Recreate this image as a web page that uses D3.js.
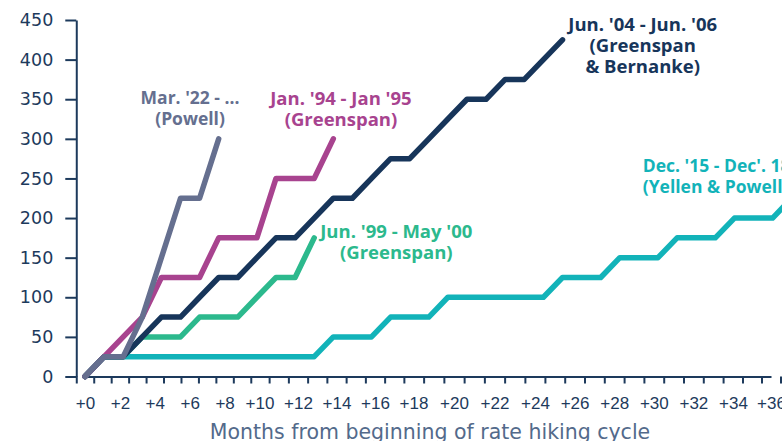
<!DOCTYPE html>
<meta charset="utf-8">
<style>
    body{ margin:0; background:#fff; }
    svg{ display:block; font-family:"Open Sans", sans-serif; }
    .axis path, .axis line{ stroke:#1d3a5c; stroke-width:2; }
    .axis text{ fill:#1d3a5c; }
    .series{ fill:none; stroke-width:5.5; stroke-linecap:round; stroke-linejoin:round; }
    .note{ font-weight:bold; }
</style>
<body>
<svg id="chart" width="782" height="441"></svg>
</body>
<script src="https://d3js.org/d3.v7.min.js"></script>
<script>
// months from beginning of cycle, basis points of cumulative hikes
var yellenPowell = [0,25,25,25,25,25,25,25,25,25,25,25,25,50,50,50,75,75,75,100,100,100,100,100,100,125,125,125,150,150,150,175,175,175,200,200,200,225];
var greenspan99  = [0,25,25,50,50,50,75,75,75,100,125,125,175];
var greenspan04  = [0,25,25,50,75,75,100,125,125,150,175,175,200,225,225,250,275,275,300,325,350,350,375,375,400,425];
var greenspan94  = [0,25,50,75,125,125,125,175,175,175,250,250,250,300];
var powell22     = [0,25,25,75,150,225,225,300];

var seriesNames  = ["yellenPowell","greenspan99","greenspan04","greenspan94","powell22"];
var seriesColors = ["#12b3b9","#2cb98d","#17355a","#a8438f","#656f8f"];
var seriesData   = [yellenPowell, greenspan99, greenspan04, greenspan94, powell22];

var labelLines = [
    ["Dec. '15 - Dec'. 18", "(Yellen & Powell)"],
    ["Jun. '99 - May '00", "(Greenspan)"],
    ["Jun. '04 - Jun. '06", "(Greenspan", "& Bernanke)"],
    ["Jan. '94 - Jan '95", "(Greenspan)"],
    ["Mar. '22 - ...", "(Powell)"]
];
// label anchor in data units (month, bps)
var labelAt = [[29.2, 258.5], [16.3, 174.5], [29.2, 436.5], [13.4, 342.5], [5.5, 343.5]];
var labelAnchor = ["start","middle","middle","middle","middle"];
var labelSize = [17.5, 18.5, 18.5, 18.5, 17.5];

var yTicks = [0,50,100,150,200,250,300,350,400,450];
var xLabels = d3.range(0, 37, 2);
var xTitle = "Months from beginning of rate hiking cycle";

var svg = d3.select("#chart");

// lines
var x = d3.scaleLinear().domain([0, 36]).range([85, 772.6]);
// axis ticks / labels as drawn in the source
var xa = d3.scaleLinear().domain([0, 10, 18, 24, 34, 36]).range([85, 259.5, 413.5, 535, 733, 771]);
var y = d3.scaleLinear().domain([0, 450]).range([376.5, 20]);

// y axis
svg.append("g")
    .attr("class", "axis")
    .attr("transform", "translate(" + xa(-0.5) + ",0)")
    .call(d3.axisLeft(y).tickValues(yTicks).tickSize(11).tickSizeOuter(0).tickPadding(12))
    .selectAll("text").style("font-family", "'DejaVu Sans'").style("font-size", "17.5px");

// x axis: ticks between months
svg.append("g")
    .attr("class", "axis")
    .attr("transform", "translate(0," + y(0) + ")")
    .call(d3.axisBottom(xa).tickValues(d3.range(-0.5, 40, 1)).tickSize(7).tickSizeOuter(0).tickFormat(""));

// x labels at month centres
svg.append("g")
    .attr("class", "axis")
    .attr("transform", "translate(0," + y(0) + ")")
    .call(d3.axisBottom(xa).tickValues(xLabels).tickSize(0).tickPadding(20).tickFormat(function(d){ return "+" + d; }))
    .call(function(g){ g.select(".domain").remove(); })
    .selectAll("text").style("font-size", "17px");

svg.append("text")
    .attr("x", 430)
    .attr("y", 438.5)
    .attr("text-anchor", "middle")
    .style("font-family", "'DejaVu Sans'")
    .style("font-size", "20.5px")
    .style("fill", "#536a8b")
    .text(xTitle);

var line = d3.line()
    .x(function(d, i){ return x(i); })
    .y(function(d){ return y(d); });

seriesData.forEach(function(s, k){
    svg.append("path")
        .datum(s)
        .attr("class", "series " + seriesNames[k])
        .attr("stroke", seriesColors[k])
        .attr("d", line);

    var t = svg.append("text")
        .attr("class", "note")
        .attr("text-anchor", labelAnchor[k])
        .attr("fill", seriesColors[k])
        .style("font-size", labelSize[k] + "px")
        .attr("x", x(labelAt[k][0]))
        .attr("y", y(labelAt[k][1]));
    labelLines[k].forEach(function(txt, j){
        t.append("tspan")
            .attr("x", x(labelAt[k][0]))
            .attr("dy", j == 0 ? 0 : 21)
            .text(txt);
    });
});
</script>
